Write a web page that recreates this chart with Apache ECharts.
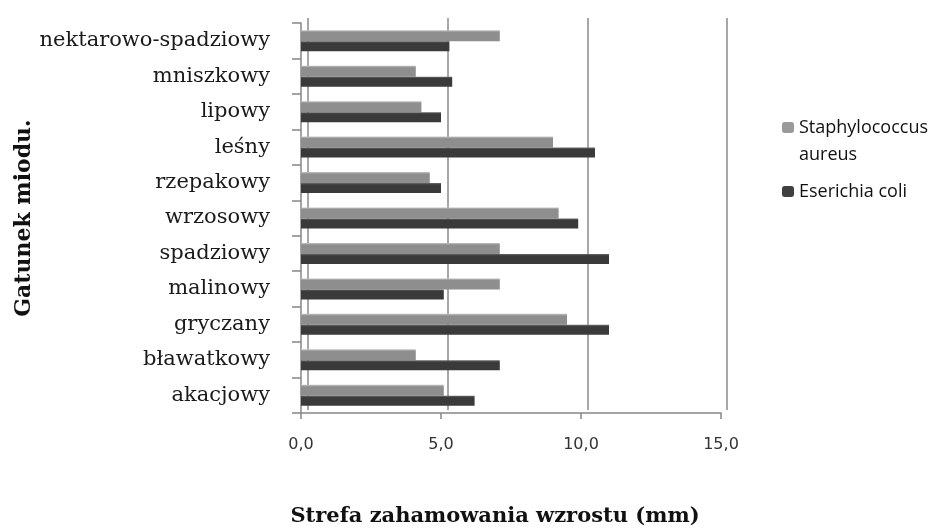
<!DOCTYPE html>
<html>
<head>
<meta charset="utf-8">
<script src="https://cdn.jsdelivr.net/npm/echarts@6/dist/echarts.min.js"></script>
<style>html,body{margin:0;padding:0;background:#fff}#c{width:939px;height:532px}</style>
</head>
<body>
<div id="c"></div>
<script>
const categories = ['akacjowy','bławatkowy','gryczany','malinowy','spadziowy','wrzosowy','rzepakowy','leśny','lipowy','mniszkowy','nektarowo-spadziowy'];
const staphylococcus = [5.1, 4.1, 9.5, 7.1, 7.1, 9.2, 4.6, 9.0, 4.3, 4.1, 7.1];
const ecoli = [6.2, 7.1, 11.0, 5.1, 11.0, 9.9, 5.0, 10.5, 5.0, 5.4, 5.3];
const seriesNames = ['Staphylococcus aureus', 'Eserichia coli'];
const xTicks = [0, 5, 10, 15];

const chart = echarts.init(document.getElementById('c'), null, {renderer: 'canvas'});
function grad(light, body) {
  return new echarts.graphic.LinearGradient(0, 0, 0, 1, [
    {offset: 0, color: light}, {offset: 0.18, color: body}, {offset: 1, color: body}
  ]);
}
chart.setOption({
  backgroundColor: '#ffffff',
  animation: false,
  legend: {
    orient: 'vertical',
    left: 777,
    top: 82,
    itemWidth: 12,
    itemHeight: 11,
    itemGap: 10,
    data: [
      {name: seriesNames[0], itemStyle: {color: '#9a9a9a'}},
      {name: seriesNames[1], itemStyle: {color: '#3f3f3f'}}
    ],
    formatter: function (n) { return n === seriesNames[0] ? '\u00a0\nStaphylococcus\naureus' : n; },
    textStyle: {fontFamily: 'Open Sans', fontSize: 18, color: '#111', lineHeight: 27}
  },
  grid: [
    {left: 301, top: 23, width: 420, height: 392, containLabel: false},
    {left: 308, top: 18, width: 419, height: 392, containLabel: false}
  ],
  xAxis: [
    {
      type: 'value', gridIndex: 0, min: xTicks[0], max: xTicks[xTicks.length - 1], interval: 5,
      splitLine: {show: false},
      axisLine: {show: true, lineStyle: {color: '#868686', width: 1.5}},
      axisTick: {show: true, length: 6, lineStyle: {color: '#868686', width: 1.5}},
      axisLabel: {margin: 24, fontFamily: 'DejaVu Sans', fontSize: 16, color: '#333',
        formatter: function (v) { return v.toFixed(1).replace('.', ','); }},
      name: 'Strefa zahamowania wzrostu (mm)',
      nameLocation: 'middle',
      nameGap: 93,
      nameTextStyle: {fontFamily: 'DejaVu Serif', fontWeight: 'bold', fontSize: 21, color: '#111', padding: [0, 32, 0, 0]}
    },
    {
      type: 'value', gridIndex: 1, min: xTicks[0], max: xTicks[xTicks.length - 1], interval: 5,
      axisLine: {show: false}, axisTick: {show: false}, axisLabel: {show: false},
      splitLine: {show: true, lineStyle: {color: '#8a8a8a', width: 1.5}}
    }
  ],
  yAxis: [
    {
      type: 'category', gridIndex: 0, data: categories,
      axisLine: {show: true, lineStyle: {color: '#868686', width: 1.5}},
      axisTick: {show: true, length: 9, lineStyle: {color: '#868686', width: 1.5}},
      axisLabel: {margin: 31, fontFamily: 'DejaVu Serif', fontSize: 21, color: '#1a1a1a'},
      name: 'Gatunek miodu.',
      nameLocation: 'middle',
      nameGap: 266,
      nameTextStyle: {fontFamily: 'DejaVu Serif', fontWeight: 'bold', fontSize: 22, color: '#111'}
    },
    {type: 'value', gridIndex: 1, show: false, min: 0, max: 1}
  ],
  series: [
    {
      name: seriesNames[0], type: 'bar', xAxisIndex: 0, yAxisIndex: 0, data: staphylococcus,
      barWidth: 11, barGap: '0%',
      itemStyle: {color: grad('#c4c4c4', '#8e8e8e')}
    },
    {
      name: seriesNames[1], type: 'bar', xAxisIndex: 0, yAxisIndex: 0, data: ecoli,
      barWidth: 10, barGap: '0%',
      itemStyle: {color: grad('#6a6a6a', '#3a3a3a')}
    }
  ]
});
</script>
</body>
</html>
